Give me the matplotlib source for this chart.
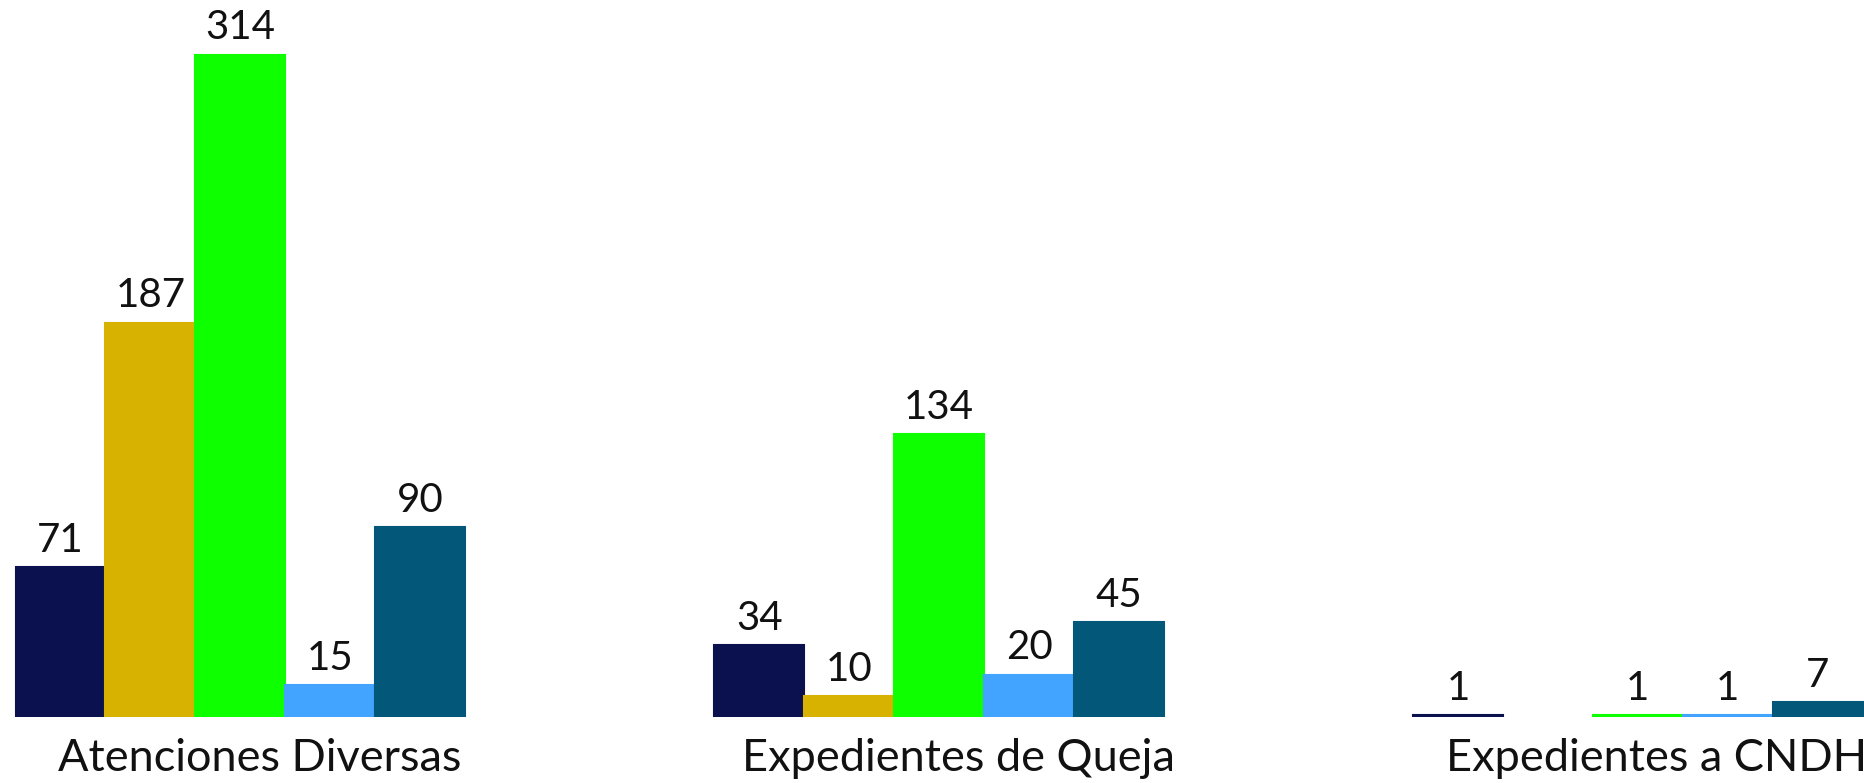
import numpy as np
import matplotlib
matplotlib.use('Agg')
from matplotlib import pyplot as plt
from matplotlib.transforms import ScaledTranslation

plt.rcParams['font.family'] = ['Lato', 'DejaVu Sans']

# Data
categories = ['Atenciones Diversas', 'Expedientes de Queja', 'Expedientes a CNDH']
serie_1 = [71, 34, 1]
serie_2 = [187, 10, 0]
serie_3 = [314, 134, 1]
serie_4 = [15, 20, 1]
serie_5 = [90, 45, 7]
series = [serie_1, serie_2, serie_3, serie_4, serie_5]
colors = ['#0B114E', '#D8B200', '#0DFF00', '#42A4FF', '#035879']

fig = plt.figure(figsize=(18.65, 7.83), dpi=100)
ax = fig.add_axes([0, 66/783, 1, 717/783])

x = np.arange(len(categories))
width = 0.1287
for i, (vals, col) in enumerate(zip(series, colors)):
    pos = x + (i - 2) * width
    # no outline on empty bars, otherwise a thin line shows up
    lw = [1.5 if v else 0 for v in vals]
    ax.bar(pos, vals, width, color=col, edgecolor=col, linewidth=lw)
    for p, v in zip(pos, vals):
        if v == 0:
            continue
        ax.annotate('%d' % v, (p, v), xytext=(0, 6), textcoords='offset points',
                    ha='center', va='bottom', fontsize=29, color='#111111')

ax.set_xlim(-0.344, 2.325)
ax.set_ylim(0, 340)
ax.set_xticks(x)
ax.set_xticklabels(categories, fontsize=32.5, color='#111111')
ax.tick_params(axis='x', length=0, pad=15)
offset = ScaledTranslation(19/100, 0, fig.dpi_scale_trans)
for lab in ax.get_xticklabels():
    lab.set_transform(lab.get_transform() + offset)
ax.set_yticks([])
for s in ax.spines.values():
    s.set_visible(False)

plt.savefig('out.png', dpi=100)
